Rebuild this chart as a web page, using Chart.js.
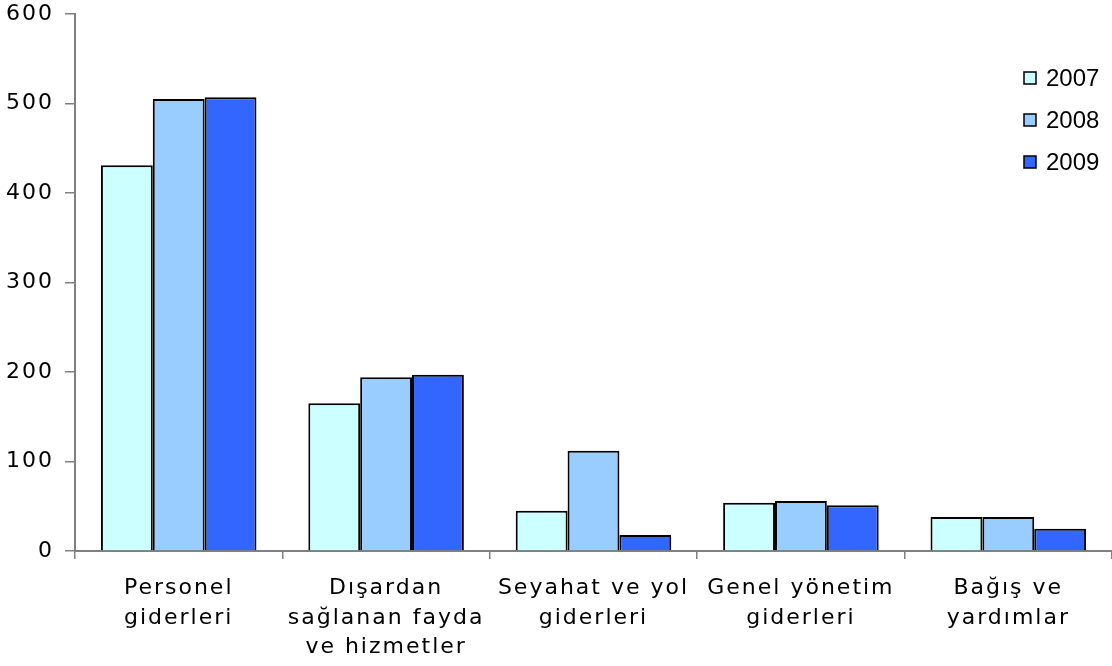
<!DOCTYPE html>
<html>
<head>
<meta charset="utf-8">
<script src="https://cdn.jsdelivr.net/npm/chart.js@4.4.0/dist/chart.umd.min.js"></script>
<style>
  html, body { margin: 0; padding: 0; background: #fff; }
  #wrap { width: 1112px; height: 666px; position: relative; }
</style>
</head>
<body>
<div id="wrap"><canvas id="chart"></canvas></div>
<script>
/* ---------- Data ---------- */
const categories = [
  ['Personel', 'giderleri'],
  ['Dışardan', 'sağlanan fayda', 've hizmetler'],
  ['Seyahat ve yol', 'giderleri'],
  ['Genel yönetim', 'giderleri'],
  ['Bağış ve', 'yardımlar']
];
const seriesNames = ['2007', '2008', '2009'];
const values2007 = [431, 165, 45, 54, 38];
const values2008 = [505, 194, 112, 56, 38];
const values2009 = [507, 197, 18, 51, 25];
const yTicks = [0, 100, 200, 300, 400, 500, 600];

const colors = ['#ccffff', '#99ccff', '#3366ff'];
const axisGray = '#808080';

Chart.defaults.font.family = '"DejaVu Sans", Verdana, sans-serif';
Chart.defaults.font.size = 20;
Chart.defaults.color = '#000';

// wide, Verdana-like axis text
const spacingPlugin = {
  id: 'spacing',
  beforeDraw(chart){ chart.ctx.letterSpacing = '2px'; }
};

// legend drawn inside the plot, top right
const boxLegend = {
  id: 'boxLegend',
  afterDraw(chart){
    const ctx = chart.ctx;
    ctx.save();
    ctx.letterSpacing = '0px';
    ctx.font = '24px "Liberation Sans", Arial, sans-serif';
    ctx.textBaseline = 'middle';
    ctx.textAlign = 'left';
    chart.data.datasets.forEach((ds, i) => {
      const y = 78 + i * 42;
      ctx.fillStyle = ds.backgroundColor;
      ctx.fillRect(1024, y - 6, 12, 12);
      ctx.strokeStyle = '#000';
      ctx.lineWidth = 1.5;
      ctx.strokeRect(1024, y - 6, 12, 12);
      ctx.fillStyle = '#000';
      ctx.fillText(ds.label, 1046, y + 1);
    });
    ctx.restore();
  }
};

const seriesData = [values2007, values2008, values2009];

new Chart(document.getElementById('chart'), {
  type: 'bar',
  data: {
    labels: categories,
    datasets: seriesNames.map((name, i) => ({
      label: name,
      data: seriesData[i],
      backgroundColor: colors[i],
      borderColor: '#000',
      borderWidth: 2,
      borderSkipped: 'bottom',
      categoryPercentage: 0.75,
      barPercentage: 1.0
    }))
  },
  options: {
    responsive: true,
    maintainAspectRatio: false,
    animation: false,
    layout: { padding: { top: 14, right: 0, left: 0, bottom: 0 } },
    plugins: { legend: { display: false }, tooltip: { enabled: false } },
    scales: {
      x: {
        grid: { display: true, drawOnChartArea: false, color: axisGray, tickLength: 8, lineWidth: 1.5 },
        border: { color: axisGray, width: 2 },
        ticks: {
          font: { size: 22, lineHeight: 1.33 },
          padding: 15,
          maxRotation: 0,
          autoSkip: false
        },
        afterFit(scale){ scale.height = 115; }
      },
      y: {
        min: 0, max: 600,
        afterBuildTicks(scale){ scale.ticks = yTicks.map(v => ({ value: v })); },
        grid: { display: true, drawOnChartArea: false, color: axisGray, tickLength: 10, lineWidth: 1.5 },
        border: { color: axisGray, width: 2 },
        ticks: {
          font: { size: 22, lineHeight: 1.0 },
          padding: 11
        },
        afterFit(scale){
          scale.width = 75;
          scale.paddingTop = 0;
          scale.paddingBottom = 0;
        }
      }
    }
  },
  plugins: [spacingPlugin, boxLegend]
});
</script>
</body>
</html>
